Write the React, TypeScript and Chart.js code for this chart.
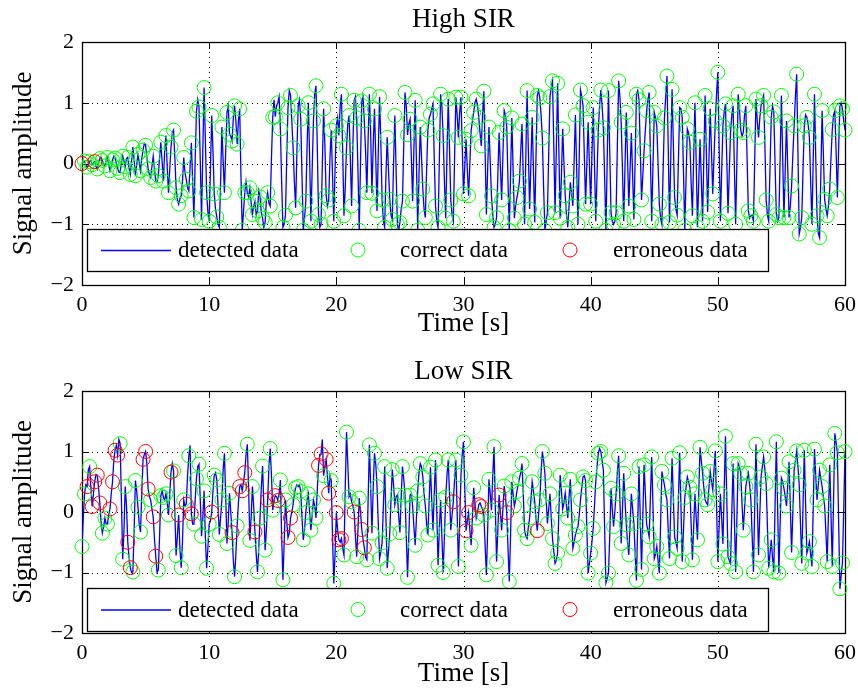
import React, { useEffect, useRef } from "react";
import { Chart, registerables } from "chart.js";

Chart.register(...registerables);

// ---------- data ----------
const SYMBOL_PERIOD = 0.2; // seconds between detected symbols
const xTicks = [0, 10, 20, 30, 40, 50, 60];
const yTicks = [-2, -1, 0, 1, 2];
const legendLabels = ["detected data", "correct data", "erroneous data"];
const titles = ["High SIR", "Low SIR"];
const xLabel = "Time [s]";
const yLabel = "Signal amplitude";

// High SIR: detected symbol values (one per 0.2 s, rows = 1 s)
const highSym = [
  0.00, 0.04, -0.06, 0.03, -0.02,
  0.03, -0.09, 0.08, 0.05, -0.04,
  0.10, -0.12, 0.06, 0.09, -0.08,
  -0.15, 0.12, -0.05, 0.10, -0.18,
  0.27, -0.20, 0.15, -0.12, 0.22,
  0.30, -0.09, -0.23, 0.12, -0.29,
  -0.20, 0.35, -0.29, 0.46, -0.48,
  0.27, 0.55, -0.40, -0.67, -0.53,
  0.10, -0.26, -0.45, 0.34, -0.89,
  0.86, 0.93, -0.92, 1.25, -0.48,
  -0.95, 0.79, -0.50, -0.88, -1.05,
  0.60, -0.48, 0.84, 0.48, 0.37,
  0.95, 0.32, 0.90, -1.10, -0.48,
  -0.48, -0.40, -0.84, -0.62, -0.78,
  -0.55, -0.90, -0.97, -0.48, -0.70,
  0.76, 0.77, 1.00, 0.57, -1.05,
  -0.85, 0.92, 1.12, 0.26, -0.73,
  0.95, 0.73, -1.10, -0.62, 1.00,
  -0.95, 0.70, 1.28, -0.84, -1.00,
  0.90, -0.53, -0.60, 0.55, -0.95,
  0.62, 0.46, 1.14, -0.86, 0.26,
  0.79, -0.70, 1.04, 0.75, -1.10,
  1.03, 0.70, -0.48, 1.14, -0.49,
  0.90, -0.78, 1.10, -0.60, -1.05,
  0.43, -0.59, -0.92, 0.79, -1.00,
  -0.97, -0.62, 1.17, 0.47, 0.73,
  -0.62, 1.04, -1.10, 0.60, -0.42,
  -0.89, 0.55, 0.81, 0.98, -0.70,
  -1.05, 1.14, 0.46, -0.90, 1.06,
  -0.60, -0.95, 1.09, 0.43, 1.09,
  -0.50, 0.40, -0.53, 0.54, 0.84,
  1.06, 0.76, 0.29, 1.19, -0.84,
  0.60, -0.53, -1.05, -0.89, 0.51,
  -0.60, 0.87, 0.60, -1.10, 0.75,
  -0.90, -0.56, -0.29, 0.65, -1.00,
  1.20, -0.75, 0.76, -0.97, 1.12,
  1.08, 0.42, -1.10, -0.81, 1.10,
  1.36, -0.81, 1.32, -0.90, 0.57,
  -0.53, -1.05, -0.31, -0.70, 0.80,
  -1.00, 1.21, 0.95, -0.67, 0.68,
  -0.67, 0.92, -0.95, 0.55, 1.21,
  0.59, -1.10, 1.20, -0.81, -1.00,
  -0.81, 1.36, 0.68, -0.95, 0.84,
  -0.70, 0.50, -0.92, 1.14, 1.05,
  -0.60, 0.21, 0.87, 1.17, -0.95,
  0.84, 0.62, -0.67, -1.00, 0.75,
  1.44, -0.97, 1.22, -0.56, -0.85,
  0.92, 0.76, -1.10, 0.57, 0.35,
  -0.86, 1.00, -1.05, 0.40, -0.95,
  1.12, -0.80, 0.90, -0.50, 0.70,
  1.50, -0.95, 0.62, 0.98, -0.82,
  0.51, 0.95, -1.00, 1.14, 0.55,
  0.51, 0.95, -0.78, -0.86, -0.95,
  1.06, 0.43, 0.95, 1.12, -0.60,
  -0.95, 0.76, 0.85, -0.84, -0.89,
  1.12, -0.89, 0.70, -0.89, -0.37,
  0.62, 1.47, -1.16, -0.89, 0.62,
  0.76, 0.43, -1.00, 1.14, -0.86,
  -1.22, 0.87, -0.59, -0.86, -0.42,
  0.56, 0.87, -0.56, 0.95, 0.90,
  0.55,
];
// High SIR: detected waveform between symbols (0.1 s after each symbol)
const highMid = [
  0.03, -0.02, -0.03, 0.05, 0.01,
  -0.05, 0.02, 0.10, -0.02, 0.06,
  -0.02, -0.04, 0.12, 0.00, -0.14,
  0.02, 0.04, 0.08, -0.08, 0.05,
  0.05, -0.02, 0.02, 0.08, 0.33,
  0.10, -0.18, -0.05, -0.10, -0.30,
  0.10, 0.02, 0.20, -0.05, -0.10,
  0.50, 0.10, -0.60, -0.58, -0.30,
  -0.15, -0.40, -0.05, -0.30, 0.05,
  1.05, 0.05, 0.20, 0.40, -0.80,
  -0.10, 0.20, -0.75, -1.00, -0.30,
  0.05, 0.20, 0.95, 0.45, 0.75,
  0.70, 0.70, -0.20, -0.80, -0.30,
  -0.55, -0.65, -0.70, -0.85, -0.45,
  -0.80, -1.05, -0.60, -0.65, 0.10,
  1.05, 0.95, 1.10, -0.30, -1.00,
  0.10, 1.20, 0.70, -0.30, 0.20,
  1.05, -0.20, -0.90, 0.30, 0.10,
  -0.10, 1.15, 0.30, -1.05, 0.00,
  0.30, -0.70, 0.10, -0.20, -0.10,
  0.75, 0.95, 0.20, -0.40, 0.65,
  0.10, 0.30, 1.10, -0.10, 0.00,
  1.10, 0.20, 0.40, 0.50, 0.30,
  0.10, 0.20, 0.35, -0.95, -0.20,
  -0.10, -0.85, 0.00, -0.10, -1.10,
  -0.75, 0.30, 0.95, 0.65, 0.10,
  0.25, 0.00, -0.20, 0.10, -0.75,
  -0.10, 0.75, 0.90, 0.10, -0.95,
  0.05, 0.95, -0.30, 0.15, 0.25,
  -0.85, 0.10, 0.80, 0.85, 0.30,
  -0.05, -0.10, 0.00, 0.70, 1.00,
  0.95, 0.50, 0.80, 0.20, -0.10,
  0.05, -0.85, -1.00, -0.20, -0.05,
  0.15, 0.80, -0.30, -0.20, -0.10,
  -0.70, -0.45, 0.20, -0.20, 0.10,
  0.20, 0.00, -0.10, 0.10, 1.20,
  0.80, -0.40, -0.95, 0.15, 1.25,
  0.30, 0.25, 0.20, -0.20, 0.00,
  -0.85, -0.70, -0.50, 0.05, -0.10,
  0.10, 1.10, 0.15, 0.00, 0.00,
  0.15, 0.00, -0.20, 0.95, 0.95,
  -0.25, 0.05, 0.20, -0.95, -0.95,
  0.30, 1.10, -0.10, -0.05, 0.10,
  -0.10, -0.20, 0.10, 1.20, 0.25,
  -0.20, 0.55, 1.05, 0.10, -0.05,
  0.75, 0.00, -0.90, -0.10, 1.10,
  0.25, 0.10, 0.35, -0.75, 0.05,
  0.90, -0.15, -0.25, 0.50, -0.30,
  0.10, 0.00, -0.30, -0.25, 0.10,
  0.15, 0.05, 0.20, 0.10, 1.15,
  0.30, -0.15, 0.85, 0.10, -0.15,
  0.80, -0.05, 0.05, 0.90, 0.45,
  0.80, 0.10, -0.90, -0.85, 0.05,
  0.70, 0.75, 1.05, 0.30, -0.85,
  -0.10, 0.95, 0.00, -0.95, 0.10,
  0.10, -0.10, -0.10, -0.70, 0.15,
  1.10, 0.20, -1.05, -0.10, 0.80,
  0.65, -0.30, 0.05, 0.10, -1.15,
  -0.20, 0.15, -0.75, -0.70, 0.10,
  0.80, 0.20, 0.25, 1.00, 0.70,
];
// High SIR: indices of erroneous symbols
const highErr = [0, 5];

// Low SIR: detected symbol values (one per 0.2 s, rows = 1 s)
const lowSym = [
  -0.57, 0.30, 0.42, 0.75, 0.09,
  0.50, 0.61, 0.15, -0.35, -0.10,
  -0.20, 0.05, 0.50, 1.02, 0.94,
  1.13, -0.78, 0.42, -0.50, -0.92,
  -0.99, 0.52, 0.08, -0.33, 0.87,
  1.00, 0.38, 0.20, -0.08, -0.73,
  -0.96, 0.27, 0.24, 0.30, -0.05,
  0.66, 0.68, -0.72, -0.05, -0.92,
  0.20, 0.13, 0.93, -0.03, -0.20,
  0.55, 0.79, -0.40, 0.35, -0.93,
  -0.20, 0.00, 0.61, 0.53, -0.37,
  0.20, 0.97, -0.52, 0.31, -0.34,
  -1.07, -0.23, 0.42, 0.35, 0.65,
  1.12, -0.47, 0.42, -0.33, -0.99,
  -0.10, 0.76, -0.63, 0.20, 1.05,
  0.03, 0.27, 0.19, 0.53, -1.12,
  0.20, -0.42, -0.10, 0.12, 0.40,
  0.42, 0.34, -0.46, -0.01, 0.30,
  -0.30, 0.20, -0.10, 0.77, 0.96,
  0.60, 0.87, 0.31, 0.52, -1.18,
  -0.01, -0.46, -0.44, -0.71, 1.32,
  0.25, 0.17, 0.00, -0.74, 0.23,
  -0.29, -0.59, -0.79, 1.11, -0.35,
  0.97, 0.42, -0.77, -0.51, 0.75,
  -0.93, -0.36, 0.70, 0.12, 0.28,
  -0.34, 0.75, 0.28, -1.08, 0.28,
  0.10, -0.55, 0.35, 0.80, 0.58,
  0.10, -0.38, 0.74, -0.30, 0.86,
  -0.88, 0.20, -1.00, 0.25, 0.86,
  -0.30, 0.17, 0.86, -0.90, 0.61,
  1.16, -0.31, -0.01, -0.55, 0.40,
  -0.10, 0.12, 0.09, -0.05, -1.04,
  0.54, 0.03, 1.08, -0.82, 0.28,
  -0.30, 0.43, -0.01, -1.15, 0.50,
  0.10, 0.34, 0.56, 0.80, -0.30,
  -0.44, -0.10, 0.50, 0.17, -0.31,
  0.20, 1.00, 0.64, -0.19, 0.30,
  -0.44, -0.85, -0.68, 0.61, 0.05,
  0.31, -0.10, 0.54, -0.60, -0.38,
  -0.24, 0.20, 0.58, 0.52, -1.01,
  -0.68, -0.27, 0.50, 0.97, 1.00,
  0.69, -1.17, -1.01, 0.39, -0.24,
  0.30, 0.93, -0.52, 0.64, -0.21,
  -0.71, 0.30, -0.19, -1.13, 0.75,
  -0.95, 0.78, -0.20, -0.41, 0.91,
  -0.77, -0.57, -1.01, 0.67, 0.45,
  0.20, -0.77, 0.89, -0.41, -0.60,
  0.98, -0.82, 0.24, 0.58, 0.41,
  -0.79, 0.30, -0.46, 1.07, 0.64,
  0.20, 0.12, 0.67, 0.37, 1.01,
  -0.82, 0.30, -0.53, 1.25, -0.74,
  -0.85, 0.80, -0.99, 0.80, 0.64,
  -0.30, 0.42, 0.64, 0.20, -0.99,
  1.12, -0.71, 0.58, 0.91, 0.47,
  -0.93, -0.46, -0.99, 1.16, -1.01,
  0.56, 0.39, 0.10, 0.83, -0.67,
  0.69, 1.01, 0.45, -0.85, 1.02,
  -0.68, -0.49, -0.90, 1.04, 0.20,
  0.69, 0.42, 0.10, -0.82, 0.78,
  -0.90, 1.30, 0.98, -1.27, -0.84,
  1.00,
];
// Low SIR: detected waveform between symbols
const lowMid = [
  -0.10, 0.45, 0.70, 0.40, 0.30,
  0.62, 0.40, -0.15, -0.25, -0.20,
  -0.05, 0.30, 0.85, 1.10, 1.20,
  0.20, -0.30, 0.10, -0.75, -1.00,
  -0.30, 0.35, -0.20, 0.30, 0.95,
  0.80, 0.25, 0.05, -0.45, -1.00,
  -0.40, 0.35, 0.20, 0.15, 0.30,
  0.80, 0.00, -0.40, -0.60, -0.50,
  0.10, 0.60, 1.10, -0.20, 0.20,
  0.75, 0.20, -0.10, -0.40, -0.60,
  -0.15, 0.35, 0.65, 0.10, -0.10,
  0.70, 0.25, -0.15, 0.00, -0.80,
  -0.70, 0.15, 0.45, 0.50, 0.95,
  0.40, -0.10, 0.10, -0.70, -0.60,
  0.40, 0.10, -0.30, 0.75, 0.60,
  0.20, 0.25, 0.30, -0.40, -0.50,
  -0.15, -0.35, 0.00, 0.30, 0.45,
  0.45, -0.10, -0.30, 0.20, 0.00,
  -0.05, 0.10, 0.35, 0.95, 1.20,
  0.75, 0.60, 0.60, -0.40, -0.70,
  -0.30, -0.50, -0.60, 0.40, 0.80,
  0.30, 0.10, -0.40, -0.30, 0.00,
  -0.45, -0.75, 0.20, 0.40, 0.40,
  0.80, -0.20, -0.65, 0.10, -0.10,
  -0.65, 0.20, 0.45, 0.25, -0.05,
  0.25, 0.55, -0.40, -0.40, 0.30,
  -0.25, -0.10, 0.65, 0.75, 0.30,
  -0.20, 0.20, 0.20, 0.30, 0.00,
  -0.30, -0.40, -0.40, 0.60, 0.30,
  -0.05, 0.55, 0.00, -0.20, 0.95,
  0.40, -0.15, -0.30, -0.10, 0.15,
  0.00, 0.15, 0.05, -0.55, -0.30,
  0.30, 0.60, 0.10, -0.30, 0.00,
  0.05, 0.25, -0.60, -0.40, 0.30,
  0.20, 0.45, 0.65, 0.30, -0.40,
  -0.25, 0.20, 0.35, -0.10, -0.05,
  0.65, 0.85, 0.20, 0.05, -0.10,
  -0.65, -0.80, 0.00, 0.35, 0.15,
  0.10, 0.25, 0.00, -0.50, -0.30,
  -0.05, 0.40, 0.60, -0.30, -0.85,
  -0.50, 0.10, 0.75, 1.05, 0.85,
  -0.30, -1.10, -0.40, 0.05, 0.00,
  0.65, 0.20, 0.05, 0.20, -0.50,
  -0.20, 0.05, -0.70, -0.20, -0.10,
  -0.10, 0.30, -0.30, 0.25, 0.10,
  -0.70, -0.80, -0.20, 0.55, 0.30,
  -0.30, 0.10, 0.25, -0.50, 0.20,
  0.10, -0.30, 0.40, 0.50, -0.20,
  -0.25, -0.10, 0.30, 0.85, 0.40,
  0.15, 0.40, 0.50, 0.70, 0.10,
  -0.25, -0.10, 0.35, 0.25, -0.80,
  0.00, -0.10, -0.10, 0.75, 0.15,
  0.05, 0.55, 0.45, -0.40, 0.10,
  0.20, -0.05, 0.75, 0.70, -0.25,
  -0.70, -0.75, 0.10, 0.10, -0.20,
  0.50, 0.25, 0.45, 0.10, 0.00,
  0.85, 0.75, -0.20, 0.10, 0.15,
  -0.60, -0.70, 0.05, 0.60, 0.45,
  0.55, 0.25, -0.35, 0.00, -0.05,
  0.20, 1.15, -0.15, -1.05, 0.05,
];
// Low SIR: indices of erroneous symbols
const lowErr = [
  2, 4, 5, 6, 7, 11, 12, 13, 14, 18, 19, 24, 25, 26, 28, 29, 35, 38, 41, 43,
  51, 59, 62, 63, 64, 68, 73, 76, 77, 81, 82, 93, 94, 96, 97, 100, 101, 102,
  107, 110, 111, 146, 151, 152, 156, 157, 164, 167, 179,
];

// ---------- styling / layout ----------
const FONT = "'Liberation Serif', 'Times New Roman', Times, serif";
const BLUE = "#0000ff";
const GREEN = "#00ff00";
const RED = "#ff0000";

type PanelLayout = {
  height: number;
  titleTop: number;
  titleBottom: number;
  xHeight: number;
  xTitleBottom: number;
  legendGap: number; // distance legend-bottom to axis-bottom
  legendHeight: number;
};

const panelLayouts: PanelLayout[] = [
  { height: 346, titleTop: 6, titleBottom: 9, xHeight: 61, xTitleBottom: 8.5, legendGap: 14, legendHeight: 42 },
  { height: 347, titleTop: 12.5, titleBottom: 5.5, xHeight: 60, xTitleBottom: 5.5, legendGap: 2, legendHeight: 43 },
];

const fmtTick = (v: number | string) => String(v).replace("-", "\u2212");

const axesPlugin = {
  id: "matlabAxes",
  beforeDatasetsDraw(chart: any) {
    const { ctx, chartArea: a, scales } = chart;
    const x = scales.x;
    const y = scales.y;
    ctx.save();
    ctx.strokeStyle = "#000";
    ctx.lineWidth = 1;
    // dotted grid
    ctx.setLineDash([1, 4]);
    x.ticks.forEach((t: any) => {
      if (t.value <= x.min || t.value >= x.max) return;
      const px = Math.round(x.getPixelForValue(t.value)) + 0.5;
      ctx.beginPath();
      ctx.moveTo(px, a.top);
      ctx.lineTo(px, a.bottom);
      ctx.stroke();
    });
    y.ticks.forEach((t: any) => {
      if (t.value <= y.min || t.value >= y.max) return;
      const py = Math.round(y.getPixelForValue(t.value)) + 0.5;
      ctx.beginPath();
      ctx.moveTo(a.left, py);
      ctx.lineTo(a.right, py);
      ctx.stroke();
    });
    ctx.setLineDash([]);
    // inward ticks
    const tl = 7;
    x.ticks.forEach((t: any) => {
      const px = Math.round(x.getPixelForValue(t.value)) + 0.5;
      ctx.beginPath();
      ctx.moveTo(px, a.bottom);
      ctx.lineTo(px, a.bottom - tl);
      ctx.moveTo(px, a.top);
      ctx.lineTo(px, a.top + tl);
      ctx.stroke();
    });
    y.ticks.forEach((t: any) => {
      const py = Math.round(y.getPixelForValue(t.value)) + 0.5;
      ctx.beginPath();
      ctx.moveTo(a.left, py);
      ctx.lineTo(a.left + tl, py);
      ctx.moveTo(a.right, py);
      ctx.lineTo(a.right - tl, py);
      ctx.stroke();
    });
    // box
    ctx.lineWidth = 1.3;
    ctx.strokeRect(Math.round(a.left) + 0.5, Math.round(a.top) + 0.5, Math.round(a.right - a.left), Math.round(a.bottom - a.top));
    ctx.restore();
  },
  afterDatasetsDraw(chart: any, _args: any, opts: any) {
    const { ctx, chartArea: a } = chart;
    const left = Math.round(a.left) + 5;
    const width = 681;
    const h = opts.legendHeight;
    const top = Math.round(a.bottom) - opts.legendGap - h;
    const mid = top + h / 2;
    ctx.save();
    ctx.fillStyle = "#fff";
    ctx.fillRect(left, top, width, h);
    ctx.strokeStyle = "#000";
    ctx.lineWidth = 1.3;
    ctx.strokeRect(left + 0.5, top + 0.5, width, h);
    const ds = chart.data.datasets;
    ctx.font = `23px ${FONT}`;
    ctx.textBaseline = "middle";
    ctx.textAlign = "left";
    // item 0: line sample
    ctx.strokeStyle = ds[0].borderColor;
    ctx.lineWidth = 1.3;
    ctx.beginPath();
    ctx.moveTo(left + 14, mid + 0.5);
    ctx.lineTo(left + 84, mid + 0.5);
    ctx.stroke();
    ctx.fillStyle = "#000";
    ctx.fillText(ds[0].label, left + 91, mid + 1);
    // item 1 & 2: circle markers
    const markerX = [271, 483];
    const textX = [313, 526];
    [1, 2].forEach((i, j) => {
      ctx.strokeStyle = ds[i].borderColor;
      ctx.lineWidth = 1;
      ctx.beginPath();
      ctx.arc(left + markerX[j], mid, 7, 0, Math.PI * 2);
      ctx.stroke();
      ctx.fillStyle = "#000";
      ctx.fillText(ds[i].label, left + textX[j], mid + 1);
    });
    ctx.restore();
  },
};

function makeConfig(title: string, sym: number[], mid: number[], err: number[], L: PanelLayout) {
  const errSet = new Set(err);
  const linePts: { x: number; y: number }[] = [];
  sym.forEach((v, k) => {
    linePts.push({ x: k * SYMBOL_PERIOD, y: v });
    if (k < mid.length) linePts.push({ x: (k + 0.5) * SYMBOL_PERIOD, y: mid[k] });
  });
  const symPts = sym.map((v, k) => ({ x: k * SYMBOL_PERIOD, y: v }));
  const green = symPts.filter((_, k) => !errSet.has(k));
  const red = symPts.filter((_, k) => errSet.has(k));
  const circle = (label: string, color: string, data: any[], order: number) => ({
    label,
    data,
    showLine: false,
    pointStyle: "circle",
    pointRadius: 7,
    pointBorderWidth: 1,
    borderColor: color,
    pointBorderColor: color,
    backgroundColor: "rgba(0,0,0,0)",
    pointBackgroundColor: "rgba(0,0,0,0)",
    order,
    clip: false,
  });
  return {
    type: "line",
    data: {
      datasets: [
        {
          label: legendLabels[0],
          data: linePts,
          borderColor: BLUE,
          borderWidth: 1.3,
          pointRadius: 0,
          fill: false,
          tension: 0,
          order: 3,
        },
        circle(legendLabels[1], GREEN, green, 2),
        circle(legendLabels[2], RED, red, 1),
      ],
    },
    options: {
      responsive: false,
      animation: false,
      events: [],
      layout: { padding: { left: 0, right: 13, top: 0, bottom: 0 } },
      plugins: {
        legend: { display: false },
        tooltip: { enabled: false },
        title: {
          display: true,
          text: title,
          fullSize: false,
          color: "#000",
          font: { family: FONT, size: 27, weight: "normal", lineHeight: 1 },
          padding: { top: L.titleTop, bottom: L.titleBottom },
        },
        matlabAxes: { legendGap: L.legendGap, legendHeight: L.legendHeight },
      },
      scales: {
        x: {
          type: "linear",
          min: xTicks[0],
          max: xTicks[xTicks.length - 1],
          afterBuildTicks: (s: any) => {
            s.ticks = xTicks.map((v) => ({ value: v }));
          },
          afterFit: (s: any) => {
            s.height = L.xHeight;
            s.paddingLeft = 0;
            s.paddingRight = 0;
          },
          grid: { display: false, drawTicks: false },
          border: { display: false },
          ticks: {
            color: "#000",
            font: { family: FONT, size: 22, lineHeight: 1 },
            padding: 9,
            maxRotation: 0,
            autoSkip: false,
            callback: (v: any) => fmtTick(v),
          },
          title: {
            display: true,
            text: xLabel,
            color: "#000",
            font: { family: FONT, size: 27, lineHeight: 1 },
            padding: { top: 0, bottom: L.xTitleBottom },
          },
        },
        y: {
          type: "linear",
          min: yTicks[0],
          max: yTicks[yTicks.length - 1],
          afterBuildTicks: (s: any) => {
            s.ticks = yTicks.map((v) => ({ value: v }));
          },
          afterFit: (s: any) => {
            s.width = 82;
            s.paddingTop = 0;
            s.paddingBottom = 0;
          },
          grid: { display: false, drawTicks: false },
          border: { display: false },
          ticks: {
            color: "#000",
            font: { family: FONT, size: 22, lineHeight: 1 },
            padding: 8,
            autoSkip: false,
            callback: (v: any) => fmtTick(v),
          },
          title: {
            display: true,
            text: yLabel,
            color: "#000",
            font: { family: FONT, size: 27, lineHeight: 1 },
            padding: { top: 10.5, bottom: 0 },
          },
        },
      },
    },
    plugins: [axesPlugin],
  };
}

function Panel({ index, top }: { index: number; top: number }) {
  const ref = useRef<HTMLCanvasElement | null>(null);
  const L = panelLayouts[index];
  useEffect(() => {
    if (!ref.current) return;
    const sym = index === 0 ? highSym : lowSym;
    const mid = index === 0 ? highMid : lowMid;
    const err = index === 0 ? highErr : lowErr;
    const chart = new Chart(ref.current, makeConfig(titles[index], sym, mid, err, L) as any);
    return () => chart.destroy();
  }, [index]);
  return (
    <canvas
      ref={ref}
      width={858}
      height={L.height}
      style={{ position: "absolute", left: 0, top, width: 858, height: L.height, display: "block" }}
    />
  );
}

export default function App() {
  return (
    <div style={{ position: "absolute", left: 0, top: 0, width: 858, height: 693, background: "#fff" }}>
      <Panel index={0} top={0} />
      <Panel index={1} top={346} />
    </div>
  );
}
